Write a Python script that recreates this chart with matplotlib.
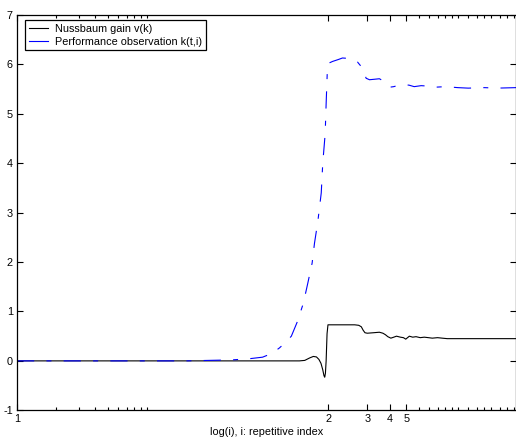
import matplotlib
matplotlib.use("Agg")
import matplotlib.pyplot as plt
from matplotlib.ticker import FixedLocator, NullFormatter

plt.rcParams['font.family'] = ['Liberation Sans', 'DejaVu Sans']
plt.rcParams['axes.unicode_minus'] = False

# repetition length (samples) and tick labels
T = 250
tick_labels = ['1', '2', '3', '4', '5']
tick_values = [1, T, 2 * T, 3 * T, 4 * T]
minor_values = [2, 3, 4, 5, 6, 7, 8, 9, 10] + [k * T for k in [5, 6, 7, 8, 9, 10, 12, 14, 16, 18, 21, 24, 27]]

# Nussbaum gain v(k)
t_v = [1, 150, 165, 180, 192, 203, 212, 220, 227, 232, 235, 238, 241, 245, 249,
       300, 400, 430, 450, 465, 480, 500, 560, 620, 660, 690, 720, 760, 800, 840,
       900, 950, 990, 1055, 1120, 1188, 1280, 1375, 1480, 1585, 1740, 1892, 2067, 7000]
v = [0, 0, 0.01, 0.06, 0.09, 0.08, 0.03, -0.05, -0.18, -0.30, -0.33, -0.25, 0.0, 0.55, 0.73,
     0.73, 0.73, 0.72, 0.69, 0.62, 0.57, 0.56, 0.57, 0.58, 0.56, 0.53, 0.49, 0.46, 0.48, 0.50,
     0.48, 0.47, 0.44, 0.50, 0.48, 0.49, 0.47, 0.48, 0.47, 0.46, 0.47, 0.46, 0.45, 0.45]

# Performance observation k(t,i)
t_k = [1, 20, 30, 45, 60, 78, 92, 105, 118, 130, 145, 161, 174, 188, 196, 208, 221, 227,
       237, 241, 246, 250, 270, 300, 322, 364, 420, 445, 460, 475, 490, 520, 570, 620, 660,
       690, 720, 750, 800, 880, 960, 1050, 1150, 1300, 1500, 1700, 2000, 2500, 3000, 4000,
       5000, 7000]
k = [0, 0, 0.01, 0.02, 0.04, 0.075, 0.15, 0.26, 0.38, 0.50, 0.80, 1.17, 1.57, 1.98, 2.38,
     2.82, 3.40, 4.00, 4.60, 5.20, 5.85, 6.02, 6.06, 6.10, 6.13, 6.12, 6.05, 5.97, 5.90,
     5.82, 5.72, 5.69, 5.70, 5.71, 5.67, 5.63, 5.57, 5.54, 5.55, 5.58, 5.59, 5.58, 5.55,
     5.57, 5.56, 5.54, 5.55, 5.53, 5.52, 5.53, 5.52, 5.53]

fig = plt.figure(figsize=(5.16, 4.41), dpi=100)
ax = fig.add_axes([17 / 516, 1 - 410.3 / 441, 1 - 17 / 516, (410.3 - 15) / 441])

ax.plot(t_v, v, color='black', lw=0.8, label='Nussbaum gain v(k)')
ax.plot(t_k, k, color='blue', lw=0.8, linestyle=(0, (15.5, 11, 4.5, 11)),
        label='Performance observation k(t,i)')

ax.set_xscale('log')
ax.set_xlim(1, 28 * T)
ax.set_ylim(-1, 7)
ax.set_yticks(range(-1, 8))
ax.xaxis.set_major_locator(FixedLocator(tick_values))
ax.set_xticklabels(tick_labels)
ax.xaxis.set_minor_locator(FixedLocator(minor_values))
ax.xaxis.set_minor_formatter(NullFormatter())

ax.tick_params(which='both', direction='in', top=True, right=True, labelsize=7.8, width=0.8)
ax.tick_params(which='major', length=4, pad=3)
ax.tick_params(which='minor', length=2.5)
for s in ax.spines.values():
    s.set_linewidth(0.9)

ax.set_xlabel('log(i), i: repetitive index', fontsize=7.8, labelpad=2)

leg = ax.legend(loc='upper left', bbox_to_anchor=(0.016, 0.987), borderaxespad=0,
                fontsize=7.8, handlelength=1.75, handletextpad=0.65, borderpad=0.35,
                labelspacing=0.25, fancybox=False, framealpha=1, edgecolor='black')
leg.get_frame().set_linewidth(0.9)
leg.get_lines()[1].set_linestyle('-')

fig.savefig('out.png', dpi=100)
